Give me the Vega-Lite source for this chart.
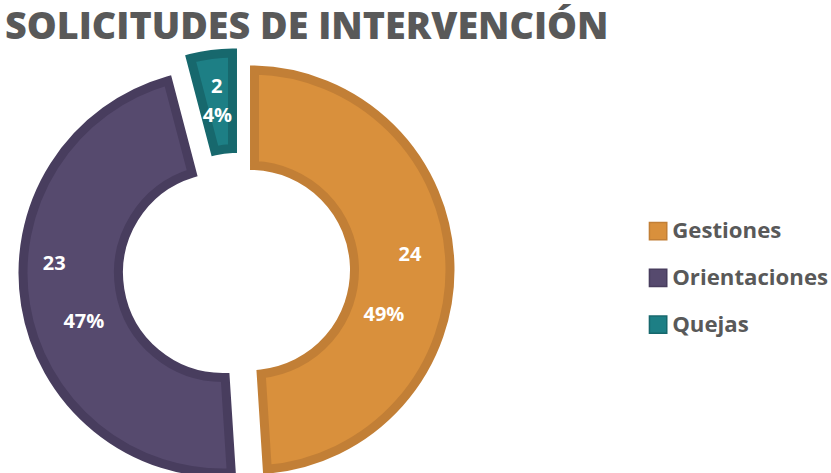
{
  "$schema": "https://vega.github.io/schema/vega-lite/v6.json",
  "width": 456,
  "height": 398,
  "padding": {"left": 5, "top": 9, "right": 5, "bottom": 5},
  "background": "white",
  "title": {"text": "SOLICITUDES DE INTERVENCIÓN", "anchor": "start", "font": "Open Sans", "fontSize": 37.7, "fontWeight": 800, "color": "#595959", "offset": -12},
  "data": {"values": [
    {"Categoria": "Gestiones", "Cantidad": 24, "Porcentaje": 0.49},
    {"Categoria": "Orientaciones", "Cantidad": 23, "Porcentaje": 0.47},
    {"Categoria": "Quejas", "Cantidad": 2, "Porcentaje": 0.04}
  ]},
  "transform": [{"stack": "Cantidad", "groupby": [], "sort": [{"field": "Categoria", "order": "ascending"}], "as": ["t0", "t1"]}],
  "layer": [
    {
      "transform": [{"filter": {"field": "Categoria", "equal": "Gestiones"}}],
      "mark": {"type": "arc", "innerRadius": 104.5, "outerRadius": 200, "padAngle": 0.04, "strokeWidth": 9, "strokeJoin": "miter", "xOffset": 7, "yOffset": 0},
      "encoding": {
        "theta": {"field": "t0", "type": "quantitative", "scale": {"domain": [0, 49]}},
        "theta2": {"field": "t1"},
        "fill": {"field": "Categoria", "type": "nominal", "scale": {"domain": ["Gestiones", "Orientaciones", "Quejas"], "range": ["#D9903C", "#564A6E", "#1D7F85"]}, "legend": {"title": null}},
        "stroke": {"field": "Categoria", "type": "nominal", "scale": {"domain": ["Gestiones", "Orientaciones", "Quejas"], "range": ["#C27F36", "#483D5E", "#17686D"]}, "legend": {"title": null}}
      }
    },
    {
      "transform": [{"filter": {"field": "Categoria", "equal": "Orientaciones"}}],
      "mark": {"type": "arc", "innerRadius": 104.5, "outerRadius": 200, "padAngle": 0.04, "strokeWidth": 9, "strokeJoin": "miter", "xOffset": -20, "yOffset": 3},
      "encoding": {
        "theta": {"field": "t0", "type": "quantitative", "scale": {"domain": [0, 49]}},
        "theta2": {"field": "t1"},
        "fill": {"field": "Categoria", "type": "nominal", "legend": {"title": null}},
        "stroke": {"field": "Categoria", "type": "nominal", "legend": {"title": null}}
      }
    },
    {
      "transform": [{"filter": {"field": "Categoria", "equal": "Quejas"}}],
      "mark": {"type": "arc", "innerRadius": 104.5, "outerRadius": 200, "padAngle": 0.04, "strokeWidth": 9, "strokeJoin": "miter", "xOffset": -6, "yOffset": -17},
      "encoding": {
        "theta": {"field": "t0", "type": "quantitative", "scale": {"domain": [0, 49]}},
        "theta2": {"field": "t1"},
        "fill": {"field": "Categoria", "type": "nominal", "legend": {"title": null}},
        "stroke": {"field": "Categoria", "type": "nominal", "legend": {"title": null}}
      }
    },
    {
      "mark": {"type": "text", "radius": 158, "dx": 2, "dy": -10, "xOffset": 7, "fill": "white", "font": "Open Sans", "fontSize": 20, "fontWeight": "bold"},
      "encoding": {
        "theta": {"field": "Cantidad", "type": "quantitative", "stack": true, "scale": {"domain": [0, 49]}},
        "order": {"field": "Categoria", "type": "ordinal", "sort": "ascending"},
        "text": {"condition": {"test": "datum.Categoria === 'Gestiones'", "field": "Cantidad", "type": "quantitative"}, "value": ""}
      }
    },
    {
      "mark": {"type": "text", "radius": 132, "dx": 2, "dy": 49, "xOffset": 7, "fill": "white", "font": "Open Sans", "fontSize": 20, "fontWeight": "bold"},
      "encoding": {
        "theta": {"field": "Cantidad", "type": "quantitative", "stack": true, "scale": {"domain": [0, 49]}},
        "order": {"field": "Categoria", "type": "ordinal", "sort": "ascending"},
        "text": {"condition": {"test": "datum.Categoria === 'Gestiones'", "field": "Porcentaje", "type": "quantitative", "format": ".0%"}, "value": ""}
      }
    },
    {
      "mark": {"type": "text", "radius": 170, "dx": -1, "dy": -36, "xOffset": -20, "yOffset": 3, "fill": "white", "font": "Open Sans", "fontSize": 20, "fontWeight": "bold"},
      "encoding": {
        "theta": {"field": "Cantidad", "type": "quantitative", "stack": true, "scale": {"domain": [0, 49]}},
        "order": {"field": "Categoria", "type": "ordinal", "sort": "ascending"},
        "text": {"condition": {"test": "datum.Categoria === 'Orientaciones'", "field": "Cantidad", "type": "quantitative"}, "value": ""}
      }
    },
    {
      "mark": {"type": "text", "radius": 143, "dx": 2, "dy": 26, "xOffset": -20, "yOffset": 3, "fill": "white", "font": "Open Sans", "fontSize": 20, "fontWeight": "bold"},
      "encoding": {
        "theta": {"field": "Cantidad", "type": "quantitative", "stack": true, "scale": {"domain": [0, 49]}},
        "order": {"field": "Categoria", "type": "ordinal", "sort": "ascending"},
        "text": {"condition": {"test": "datum.Categoria === 'Orientaciones'", "field": "Porcentaje", "type": "quantitative", "format": ".0%"}, "value": ""}
      }
    },
    {
      "mark": {"type": "text", "radius": 167, "dx": 1, "xOffset": -6, "yOffset": -17, "fill": "white", "font": "Open Sans", "fontSize": 20, "fontWeight": "bold"},
      "encoding": {
        "theta": {"field": "Cantidad", "type": "quantitative", "stack": true, "scale": {"domain": [0, 49]}},
        "order": {"field": "Categoria", "type": "ordinal", "sort": "ascending"},
        "text": {"condition": {"test": "datum.Categoria === 'Quejas'", "field": "Cantidad", "type": "quantitative"}, "value": ""}
      }
    },
    {
      "mark": {"type": "text", "radius": 138, "dx": -2, "xOffset": -6, "yOffset": -17, "fill": "white", "font": "Open Sans", "fontSize": 20, "fontWeight": "bold"},
      "encoding": {
        "theta": {"field": "Cantidad", "type": "quantitative", "stack": true, "scale": {"domain": [0, 49]}},
        "order": {"field": "Categoria", "type": "ordinal", "sort": "ascending"},
        "text": {"condition": {"test": "datum.Categoria === 'Quejas'", "field": "Porcentaje", "type": "quantitative", "format": ".0%"}, "value": ""}
      }
    }
  ],
  "config": {
    "view": {"stroke": null},
    "legend": {
      "orient": "none",
      "legendX": 632,
      "legendY": 149,
      "symbolType": "square",
      "symbolSize": 300,
      "symbolStrokeWidth": 1.5,
      "labelFont": "Open Sans",
      "labelFontSize": 22.2,
      "labelFontWeight": "bold",
      "labelColor": "#595959",
      "labelOffset": 3,
      "rowPadding": 22.8,
      "labelLimit": 300
    }
  }
}
